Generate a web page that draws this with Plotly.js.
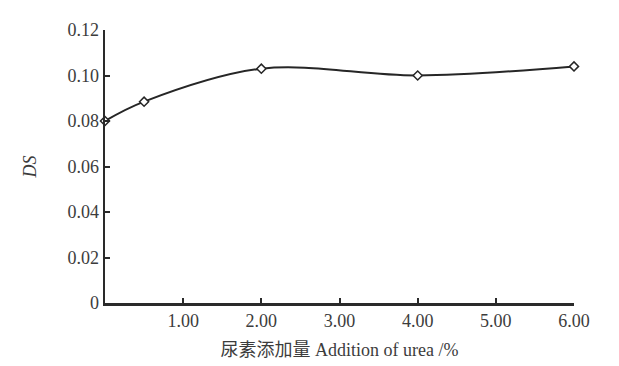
<!DOCTYPE html>
<html>
<head>
<meta charset="utf-8">
<script src="https://cdn.plot.ly/plotly-3.0.1.min.js"></script>
<style>
  html, body { margin: 0; padding: 0; background: #fff; }
  #chart { width: 619px; height: 366px; }
</style>
</head>
<body>
<div id="chart"></div>
<script>
// Urea addition (%) and resulting degree of substitution (DS)
const ureaAddition = [0, 0.5, 2, 4, 6];
const dsValues = [0.080, 0.0885, 0.103, 0.100, 0.104];

const xTickVals = [1, 2, 3, 4, 5, 6];
const xTickText = ['1.00', '2.00', '3.00', '4.00', '5.00', '6.00'];
const yTickVals = [0, 0.02, 0.04, 0.06, 0.08, 0.10, 0.12];
const yTickText = ['0', '0.02', '0.04', '0.06', '0.08', '0.10', '0.12'];

const xTitle = '尿素添加量 Addition of urea /%';
const yTitle = 'DS';

const axisColor = '#2a2a2a';
const textColor = '#3c3c3c';
const serif = '"Liberation Serif", "DejaVu Serif", "Noto Sans CJK SC", serif';

const trace = {
  x: ureaAddition,
  y: dsValues,
  type: 'scatter',
  mode: 'lines+markers',
  line: { shape: 'spline', smoothing: 1, color: '#262626', width: 2 },
  marker: {
    symbol: 'diamond',
    size: 7,
    color: '#ffffff',
    line: { color: '#262626', width: 1.5 }
  },
  cliponaxis: false,
  hoverinfo: 'skip'
};

const layout = {
  width: 619,
  height: 366,
  margin: { l: 105, r: 45, t: 30, b: 63 },
  paper_bgcolor: '#ffffff',
  plot_bgcolor: '#ffffff',
  showlegend: false,
  font: { family: serif, color: textColor, size: 18 },
  xaxis: {
    range: [0, 6],
    tickvals: xTickVals,
    ticktext: xTickText,
    ticks: 'inside',
    ticklen: 5,
    tickwidth: 2,
    tickcolor: axisColor,
    showline: true,
    linecolor: axisColor,
    linewidth: 2.5,
    showgrid: false,
    zeroline: false,
    fixedrange: true,
    tickfont: { family: serif, size: 18, color: textColor },
    title: {
      text: xTitle,
      standoff: 14,
      font: { family: serif, size: 18, color: textColor }
    }
  },
  yaxis: {
    range: [0, 0.12],
    tickvals: yTickVals,
    ticktext: yTickText,
    ticks: 'inside',
    ticklen: 5,
    tickwidth: 2,
    tickcolor: axisColor,
    showline: true,
    linecolor: axisColor,
    linewidth: 2.5,
    showgrid: false,
    zeroline: false,
    fixedrange: true,
    tickfont: { family: serif, size: 18, color: textColor },
    title: {
      text: '<i>' + yTitle + '</i>',
      standoff: 26,
      font: { family: serif, size: 18, color: textColor }
    }
  }
};

Plotly.newPlot('chart', [trace], layout, { staticPlot: true, displayModeBar: false });
</script>
</body>
</html>
